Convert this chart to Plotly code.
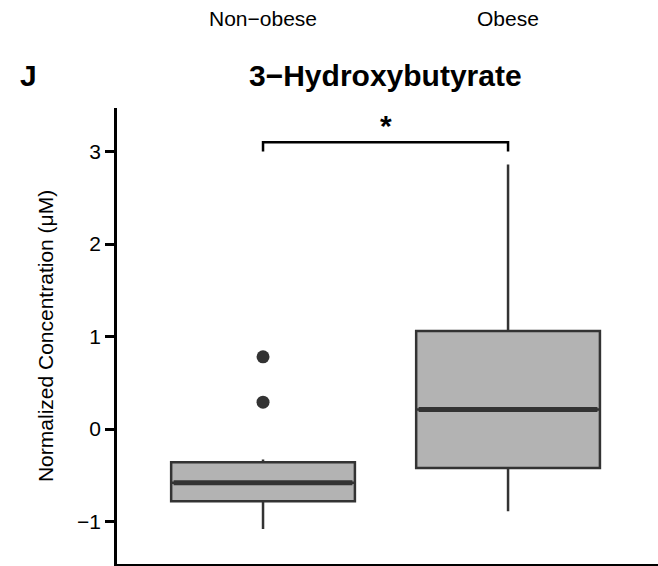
import plotly.graph_objects as go

# Group labels and summary statistics (normalized concentration, μM)
groups = ["Non−obese", "Obese"]
positions = [1, 2]
q1 = [-0.78, -0.42]
median = [-0.58, 0.21]
q3 = [-0.36, 1.06]
lower_whisker = [-1.08, -0.89]
upper_whisker = [-0.33, 2.86]

# Individual outliers (group position, value)
outlier_pos = [1, 1]
outlier_val = [0.78, 0.29]

# Significance marker between the two groups
sig_label = "*"
sig_low = 3.0
sig_high = 3.10

y_ticks = [-1, 0, 1, 2, 3]

FONT = "Liberation Sans, Arial, Helvetica, sans-serif"
BOX_FILL = "#b3b3b3"
BOX_LINE = "#333333"
BOX_WIDTH = 0.75

fig = go.Figure()

fig.add_trace(go.Box(
    x=positions,
    q1=q1,
    median=median,
    q3=q3,
    lowerfence=lower_whisker,
    upperfence=upper_whisker,
    width=BOX_WIDTH,
    fillcolor=BOX_FILL,
    line=dict(color=BOX_LINE, width=2.5),
    whiskerwidth=0,
    boxpoints=False,
    hoverinfo="skip",
    showlegend=False,
))

# Heavier median bars drawn over each box
for p, m in zip(positions, median):
    fig.add_trace(go.Scatter(
        x=[p - BOX_WIDTH / 2 + 0.01, p + BOX_WIDTH / 2 - 0.01],
        y=[m, m],
        mode="lines",
        line=dict(color=BOX_LINE, width=5),
        hoverinfo="skip",
        showlegend=False,
    ))

fig.add_trace(go.Scatter(
    x=outlier_pos,
    y=outlier_val,
    mode="markers",
    marker=dict(color=BOX_LINE, size=13, line=dict(width=0)),
    hoverinfo="skip",
    showlegend=False,
))

# Significance bracket
fig.add_shape(
    type="path",
    path=(f"M {positions[0]},{sig_low} L {positions[0]},{sig_high} "
          f"L {positions[1]},{sig_high} L {positions[1]},{sig_low}"),
    xref="x", yref="y",
    line=dict(color="black", width=2.5),
)
fig.add_annotation(
    x=(positions[0] + positions[1]) / 2, y=sig_high,
    xref="x", yref="y",
    text=sig_label, showarrow=False,
    yanchor="bottom", yshift=-2,
    font=dict(family=FONT, size=30, color="black", weight="bold"),
)

# Group labels along the top
for p, g in zip(positions, groups):
    fig.add_annotation(
        x=p, y=1.197, xref="x", yref="paper",
        text=g, showarrow=False, yanchor="middle",
        font=dict(family=FONT, size=21, color="black"),
    )

# Panel title and letter
fig.add_annotation(
    x=1.5, y=1.072, xref="x", yref="paper",
    text="<b>3−Hydroxybutyrate</b>", showarrow=False, yanchor="middle",
    font=dict(family=FONT, size=30, color="black"),
)
fig.add_annotation(
    x=-0.1645, y=1.072, xref="paper", yref="paper",
    text="<b>J</b>", showarrow=False, yanchor="middle", xanchor="center",
    font=dict(family=FONT, size=30, color="black"),
)

# Y-axis title
fig.add_annotation(
    x=-0.133, y=0.5, xref="paper", yref="paper",
    text="Normalized Concentration (μM)", showarrow=False,
    textangle=-90, xanchor="center", yanchor="middle",
    font=dict(family=FONT, size=21, color="black"),
)

fig.update_layout(
    width=658, height=566,
    margin=dict(l=117, r=0, t=108, b=2),
    paper_bgcolor="white",
    plot_bgcolor="white",
    font=dict(family=FONT, size=21, color="black"),
    xaxis=dict(
        range=[0.404, 2.612],
        showticklabels=False,
        ticks="",
        showgrid=False,
        zeroline=False,
        showline=True,
        linecolor="black",
        linewidth=2.5,
    ),
    yaxis=dict(
        range=[-1.459, 3.470],
        tickvals=y_ticks,
        ticks="outside",
        ticklen=9,
        tickwidth=2.5,
        tickcolor="black",
        showgrid=False,
        zeroline=False,
        showline=True,
        linecolor="black",
        linewidth=2.5,
        tickfont=dict(family=FONT, size=21, color="black"),
    ),
)

fig.write_html("out.html")
